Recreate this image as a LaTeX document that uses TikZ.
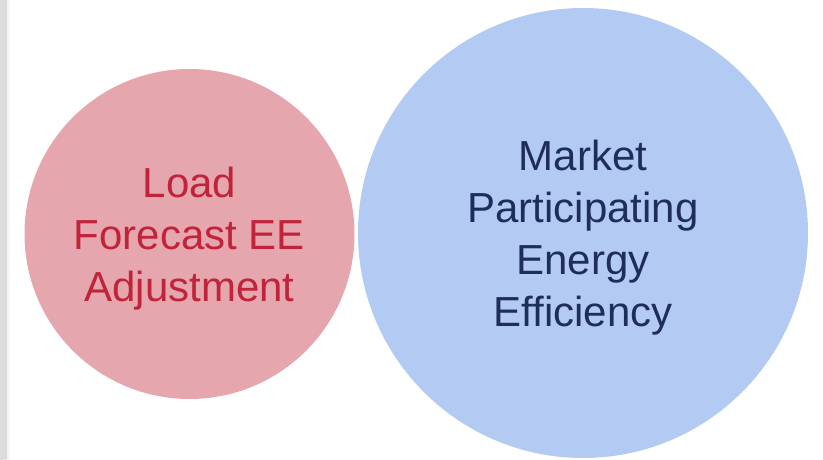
\documentclass[tikz,border=0pt]{standalone}
\usepackage{fontspec}
\setmainfont{Liberation Sans}
\usepackage{tikz}

\definecolor{loadfill}{HTML}{E6A6AD}
\definecolor{loadtext}{HTML}{C0233A}
\definecolor{mktfill}{HTML}{B3CBF2}
\definecolor{mkttext}{HTML}{1F2D5C}
\definecolor{edgegray}{HTML}{DCDCDC}

\begin{document}
\begin{tikzpicture}[
    x=1pt, y=1pt,
    bubble/.style={circle,inner sep=0pt},
    bubbletext/.style={inner sep=0pt,align=center,
        font=\fontsize{42}{52}\selectfont},
    loadbubble/.style={bubble,fill=loadfill,minimum size=330pt},
    mktbubble/.style={bubble,fill=mktfill,minimum size=450pt}
]
\useasboundingbox (0,0) rectangle (823,459);

% linker rand
\shade[left color=edgegray, right color=white] (0,0) rectangle (11,459);
\fill[edgegray] (0,0) rectangle (7,459);

% de twee cirkels
\node[loadbubble] (load) at (189.5,225) {};
\node[mktbubble] (mkt) at (583,226) {};

% teksten
\node[bubbletext,text=loadtext] (loadtxt) at ([yshift=-5pt]load.center)
    {Load\\Forecast EE\\Adjustment};
\node[bubbletext,text=mkttext] (mkttxt) at ([yshift=-5pt]mkt.center)
    {Market\\Participating\\Energy\\Efficiency};

\end{tikzpicture}
\end{document}
